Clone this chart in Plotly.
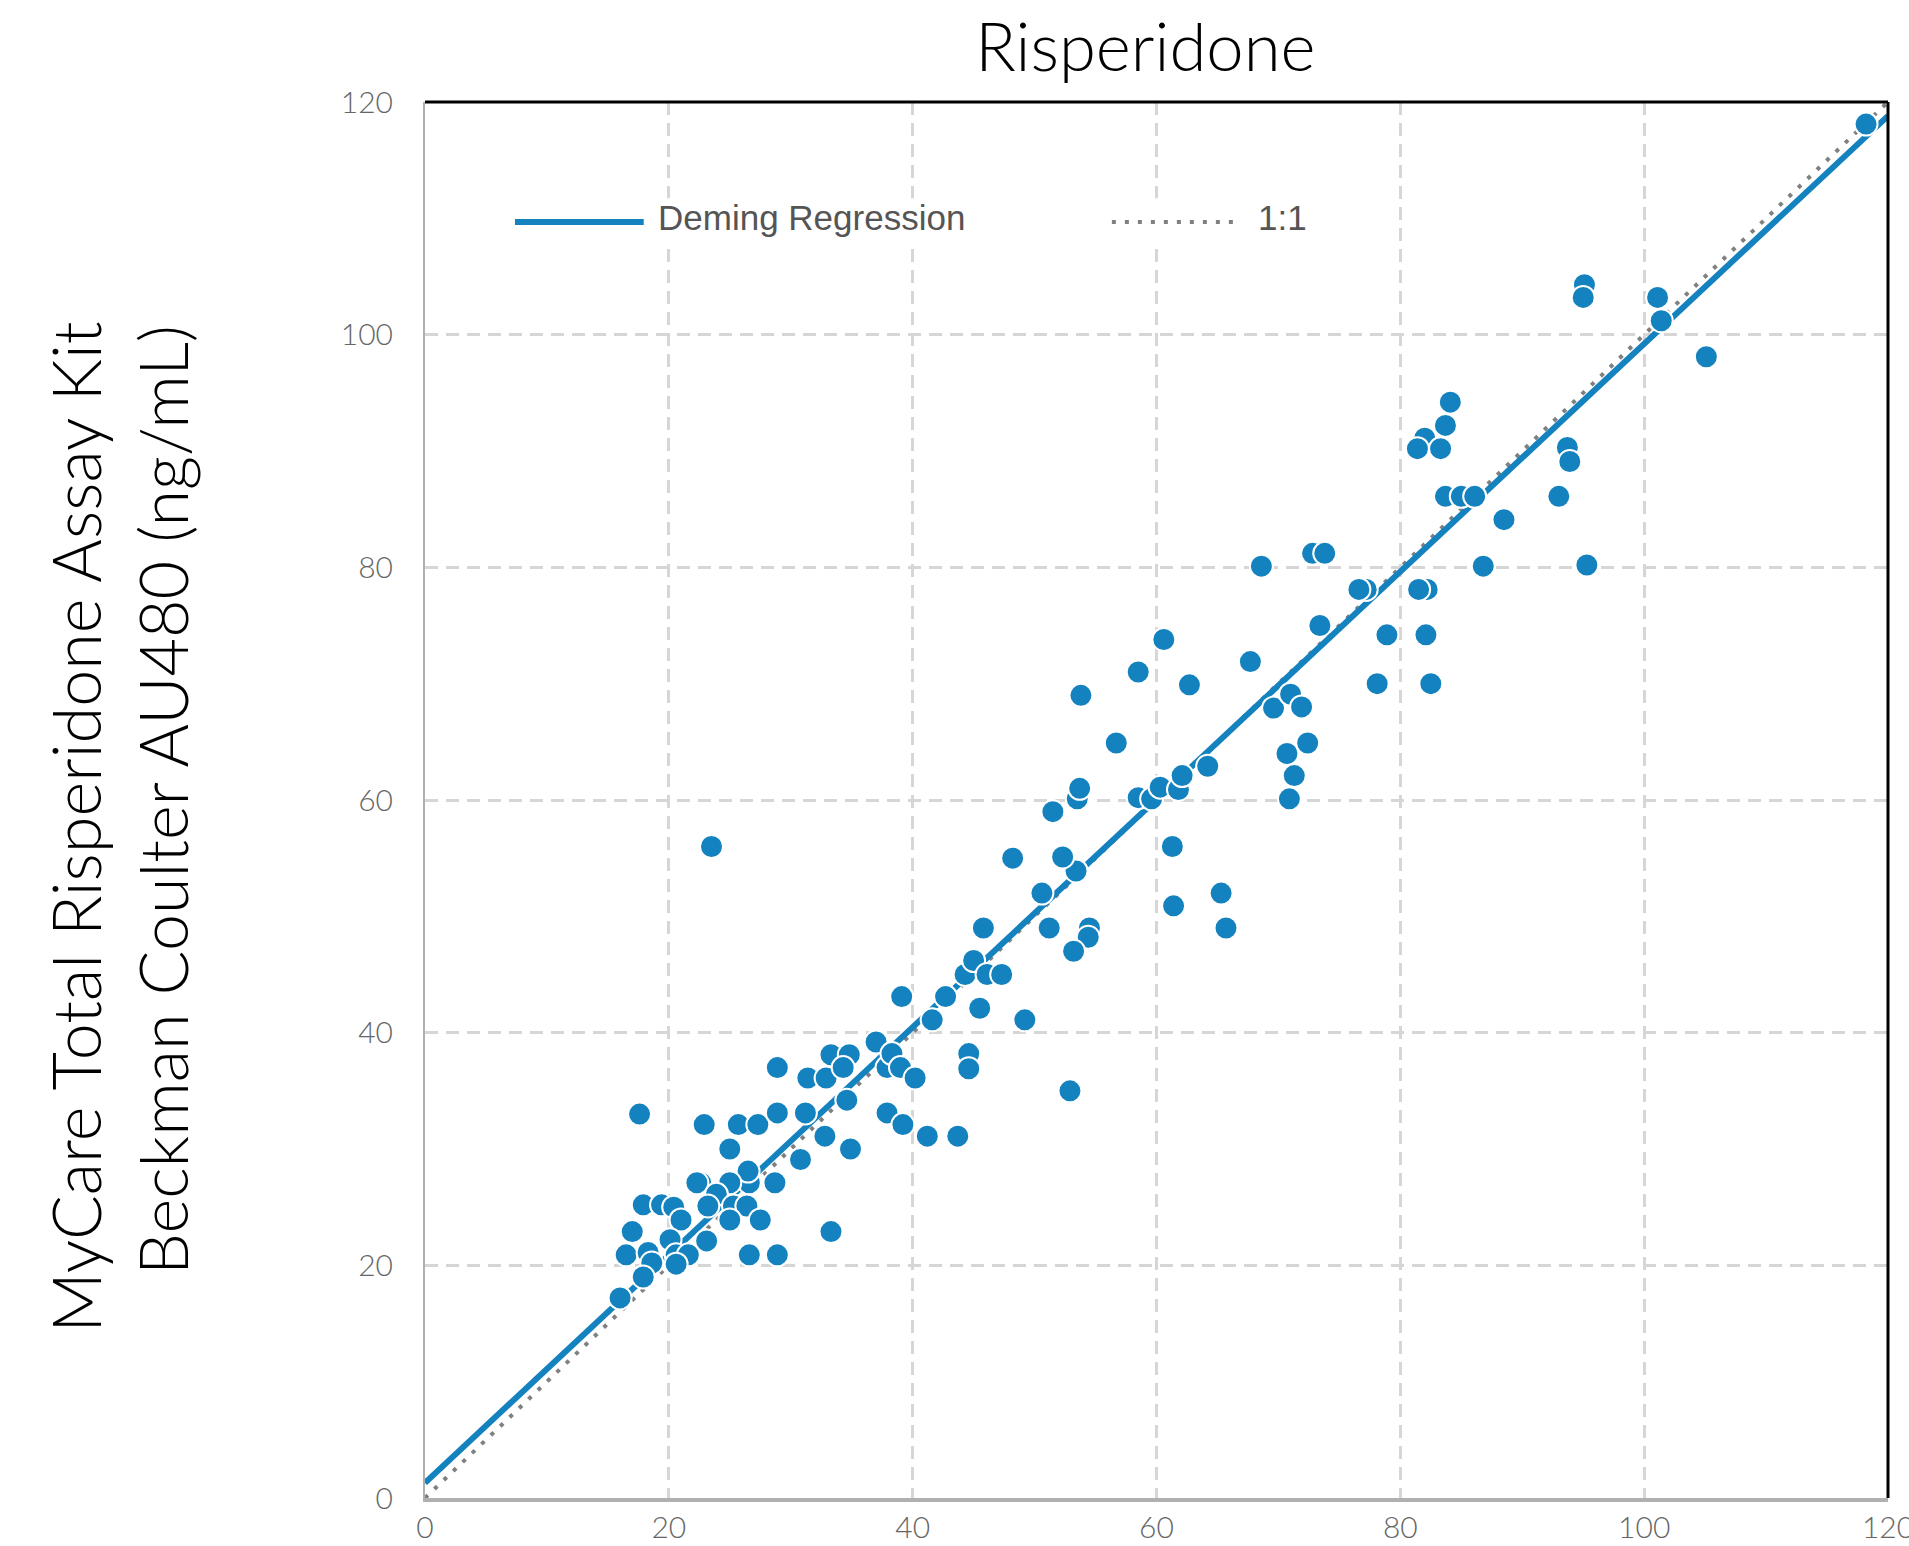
import plotly.graph_objects as go

# Beckman Coulter AU480 (x) vs MyCare Total Risperidone Assay Kit (y), ng/mL
x_vals = [
    17.6, 22.9, 25.7, 27.3, 28.9, 28.9, 31.2, 31.4, 32.9, 33.3,
    34.8, 34.3, 37.0, 37.9, 38.3, 39.0, 40.2, 41.6, 44.6, 44.6,
    45.5, 34.6, 32.8, 34.9, 37.9, 39.2, 41.2, 43.7, 30.8, 25.0,
    33.3, 28.7, 26.6, 26.5, 25.0, 22.6, 22.3, 23.9, 23.2, 25.3,
    26.4, 25.0, 27.5, 23.1, 26.6, 28.9, 17.9, 19.4, 20.4, 21.0,
    17.0, 20.1, 20.6, 21.6, 16.5, 18.3, 18.6, 17.9, 20.6, 16.0,
    39.1, 42.7, 49.2, 44.3, 45.0, 46.1, 47.3, 45.8, 51.2, 54.5,
    54.4, 53.2, 50.6, 53.4, 52.3, 48.2, 51.5, 53.5, 53.7, 58.5,
    59.6, 60.3, 61.8, 62.1, 64.2, 61.3, 61.4, 65.3, 65.7, 56.7,
    53.8, 58.5, 60.6, 62.7, 67.7, 69.6, 70.7, 70.9, 52.9, 68.6,
    72.8, 73.8, 86.8, 77.2, 76.6, 82.2, 81.5, 73.4, 78.9, 82.1,
    78.1, 82.5, 71.0, 71.9, 72.4, 71.3, 88.5, 95.1, 95.0, 101.1,
    101.4, 105.1, 84.1, 83.7, 82.0, 81.4, 83.3, 93.7, 93.9, 83.7,
    85.0, 86.1, 93.0, 95.3, 118.2, 23.5,
]
y_vals = [
    33.0, 32.1, 32.1, 32.1, 37.0, 33.1, 33.1, 36.1, 36.1, 38.1,
    38.1, 37.0, 39.2, 37.0, 38.2, 37.0, 36.1, 41.1, 38.2, 36.9,
    42.1, 34.2, 31.1, 30.0, 33.1, 32.1, 31.1, 31.1, 29.1, 30.0,
    22.9, 27.1, 27.1, 28.1, 27.1, 27.1, 27.1, 26.1, 25.1, 25.1,
    25.1, 23.9, 23.9, 22.1, 20.9, 20.9, 25.2, 25.2, 25.0, 23.9,
    22.9, 22.2, 20.9, 20.9, 20.9, 21.1, 20.2, 19.0, 20.1, 17.2,
    43.1, 43.1, 41.1, 45.0, 46.2, 45.0, 45.0, 49.0, 49.0, 49.0,
    48.2, 47.0, 52.0, 53.9, 55.1, 55.0, 59.0, 60.1, 61.0, 60.2,
    60.1, 61.1, 60.9, 62.1, 62.9, 56.0, 50.9, 52.0, 49.0, 64.9,
    69.0, 71.0, 73.8, 69.9, 71.9, 67.9, 64.0, 60.1, 35.0, 80.1,
    81.2, 81.2, 80.1, 78.1, 78.1, 78.1, 78.1, 75.0, 74.2, 74.2,
    70.0, 70.0, 69.1, 68.0, 64.9, 62.1, 84.1, 104.3, 103.2, 103.2,
    101.2, 98.1, 94.2, 92.2, 91.1, 90.2, 90.2, 90.3, 89.1, 86.1,
    86.1, 86.1, 86.1, 80.2, 118.1, 56.0,
]

deming_x = [0, 120]
deming_y = [1.3, 118.8]
identity_x = [0, 120]
identity_y = [0, 120]

tick_vals = [0, 20, 40, 60, 80, 100, 120]
tick_text = ["0", "20", "40", "60", "80", "100", "120"]

legend_labels = ["Deming Regression", "1:1"]
y_title_lines = ["MyCare Total Risperidone Assay Kit", "Beckman Coulter AU480 (ng/mL)"]

BLUE = "#1482BE"
GRAY_DOT = "#808080"
FONT = "Lato, 'Open Sans', 'Noto Sans', sans-serif"
LEG_FONT = "'Liberation Sans', Arial, sans-serif"
DOT_DASH = "4px,9px"
PAD = "\u00a0" * 3  # nudges the centred axis title slightly along the axis

fig = go.Figure()
fig.add_trace(go.Scatter(
    x=identity_x, y=identity_y, mode="lines", name=legend_labels[1],
    line=dict(color=GRAY_DOT, width=4, dash=DOT_DASH), showlegend=False,
))
fig.add_trace(go.Scatter(
    x=deming_x, y=deming_y, mode="lines", name=legend_labels[0],
    line=dict(color=BLUE, width=6), showlegend=False,
))
fig.add_trace(go.Scatter(
    x=x_vals, y=y_vals, mode="markers", name="Samples", showlegend=False,
    marker=dict(color=BLUE, size=23, line=dict(color="white", width=2)),
))

axis_common = dict(
    range=[0, 120], tickvals=tick_vals, ticktext=tick_text,
    showgrid=True, gridcolor="#d6d6d6", gridwidth=3, griddash="13px,8px",
    zeroline=False, showline=True, linecolor="#b0b0b0",
    tickfont=dict(family=FONT, size=30, color="#666666", weight=300),
    ticks="", fixedrange=True, automargin=False, ticklabeloverflow="allow",
)

# legend drawn in paper coordinates
leg_y = 0.9140
txt_y = 0.9175
shapes = [
    dict(type="rect", xref="paper", yref="paper", x0=0.05, x1=0.62,
         y0=0.896, y1=0.931, fillcolor="white", line=dict(width=0), layer="above"),
    dict(type="line", xref="paper", yref="paper", x0=0.0615, x1=0.1495, y0=leg_y, y1=leg_y,
         line=dict(color=BLUE, width=6), layer="above"),
    dict(type="line", xref="paper", yref="paper", x0=0.4695, x1=0.5555, y0=leg_y, y1=leg_y,
         line=dict(color=GRAY_DOT, width=4, dash=DOT_DASH), layer="above"),
    dict(type="line", xref="paper", yref="paper", x0=0, x1=1, y0=1, y1=1,
         line=dict(color="black", width=3), layer="above"),
    dict(type="line", xref="paper", yref="paper", x0=1, x1=1, y0=0, y1=1,
         line=dict(color="black", width=3), layer="above"),
]
annotations = [
    dict(text=legend_labels[0], xref="paper", yref="paper", x=0.158, y=txt_y,
         xanchor="left", yanchor="middle", showarrow=False,
         font=dict(family=LEG_FONT, size=35, color="#555555")),
    dict(text=legend_labels[1], xref="paper", yref="paper", x=0.568, y=txt_y,
         xanchor="left", yanchor="middle", showarrow=False,
         font=dict(family=LEG_FONT, size=35, color="#555555")),
]

fig.update_layout(
    width=1909, height=1546,
    margin=dict(l=425, r=21, t=102, b=48),
    paper_bgcolor="white", plot_bgcolor="white",
    title=dict(text="Risperidone", x=0.6, xref="container", xanchor="center",
               y=0.969, yref="container", yanchor="middle",
               font=dict(family=FONT, size=67, color="black", weight=300)),
    xaxis=dict(**axis_common, linewidth=4, ticklabelstandoff=0),
    yaxis=dict(**axis_common, linewidth=2, ticklabelstandoff=24,
               title=dict(text="<br>".join(line + PAD for line in y_title_lines),
                          font=dict(family=FONT, size=66.5, color="black", weight=300),
                          standoff=131)),
    showlegend=False,
    shapes=shapes,
    annotations=annotations,
)

fig.write_html("out.html")
